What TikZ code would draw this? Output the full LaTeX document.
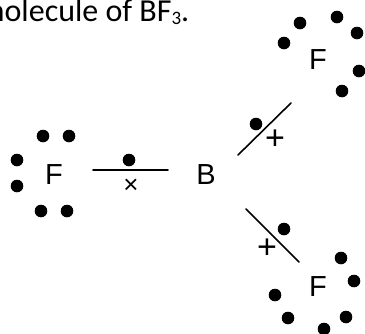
\documentclass[tikz,border=0pt]{standalone}
\usepackage{fontspec}
\setmainfont{Liberation Sans}
\newfontfamily\captionfont{Carlito}
\usetikzlibrary{positioning}
\tikzset{
  atom/.style={inner sep=0pt,font=\fontsize{29}{29}\selectfont},
  sign/.style={inner sep=0pt,font=\fontsize{34}{34}\selectfont},
  bond/.style={line width=1.6pt,line cap=round},
  electron/.style={fill=black}
}
\begin{document}
\begin{tikzpicture}[x=1pt,y=-1pt]
\useasboundingbox (0,0) rectangle (365,333);
\clip (0,0) rectangle (365,333);
\node[anchor=base east,inner sep=0pt,font=\captionfont\fontsize{32}{32}\selectfont] (title) at (189.5,21) {molecule of BF{\fontsize{19}{19}\selectfont\raisebox{-3pt}{3}}.};
% atoms
\node[atom] (fleft) at (54,175) {F};
\node[atom] (boron) at (206,175) {B};
\node[atom] (ftop) at (318,60) {F};
\node[atom] (fbottom) at (318,287) {F};
% bonds
\coordinate (ha) at (93,170);
\coordinate (hb) at (168,170);
\coordinate (ua) at (238,155);
\coordinate (ub) at (291,103);
\coordinate (da) at (246,209);
\coordinate (db) at (299,262);
\draw[bond] (ha) -- (hb);
\draw[bond] (ua) -- (ub);
\draw[bond] (da) -- (db);
\node[sign,font=\fontsize{26}{26}\selectfont] (cross) at (131,186) {×};
\node[sign] (plusu) at (275,140) {+};
\node[sign] (plusd) at (267,249) {+};
% electrons
\foreach \x/\y in {43/136,69/136,17/160,17/186,41/211,67/211,129/160,
  284/43,300/23,337/17,357/33,359/71,342/91,256/124,
  284/229,341/258,354/281,275/295,288/318,346/317,324/329}{
  \fill[electron] (\x,\y) circle (6.3);
}
\end{tikzpicture}
\end{document}
